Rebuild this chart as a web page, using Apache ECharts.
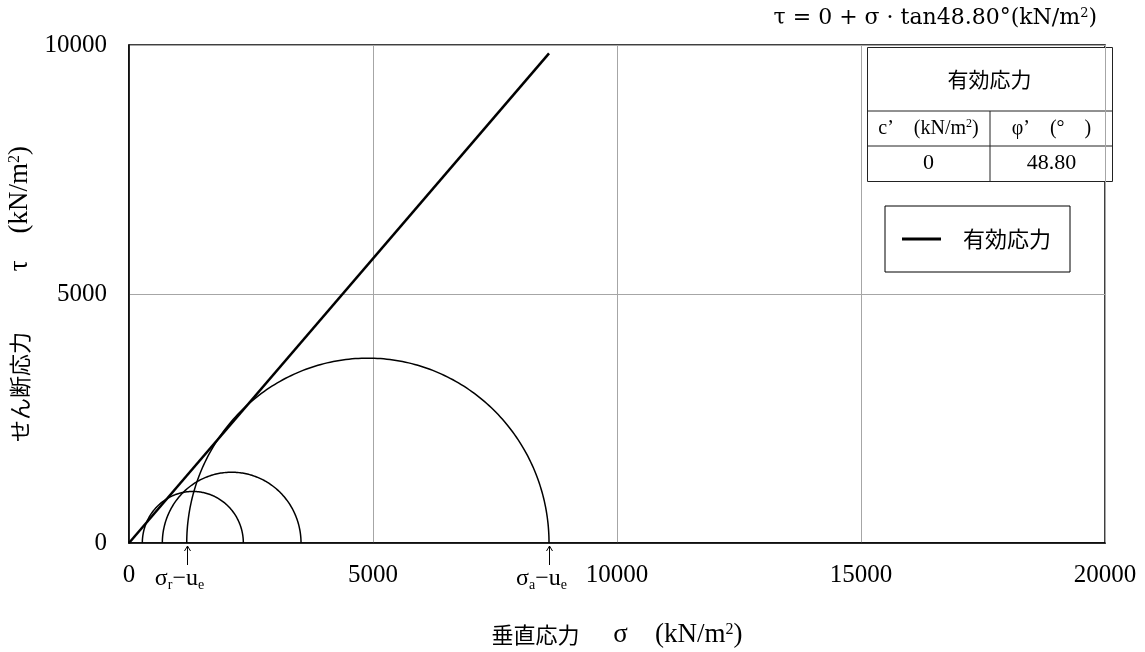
<!DOCTYPE html>
<html><head><meta charset="utf-8">
<script src="https://cdn.jsdelivr.net/npm/echarts@6/dist/echarts.min.js"></script>
<style>html,body{margin:0;padding:0;background:#fff}#c{width:1145px;height:652px}</style>
</head><body><div id="c"></div>
<script>
// ---- data ----
const circleCenters = [1308, 2104, 4895];
const circleRadii = [1035, 1421, 3712];
const envelopeSigma = [0, 8607];
const envelopeTau = [0, 9832];
const arrowSigma = [1182, 8607];
const arrowSubs = ['r', 'a'];
const seriesName = '有効応力';
const tableHeader = '有効応力';
const tableCols = ['c’　(kN/m{sup|2})', 'φ’　(°　)'];
const tableVals = ['0', '48.80'];
const xName = '{j|垂直応力}{l|　 σ　(kN/m}{s|2}{l|)}';
const yName = '{j|せん断応力}{l|　　 τ　(kN/m}{s|2}{l|)}';

const SERIF = "'Liberation Serif','Noto Sans CJK JP',serif";
const chart = echarts.init(document.getElementById('c'));

const circleData = circleCenters.map((c, i) => [c, circleRadii[i]]);
const envelopeData = envelopeSigma.map((s, i) => [s, envelopeTau[i]]);

const nameRich = {
  j: {fontFamily: "'Noto Sans CJK JP',sans-serif", fontSize: 22, color: '#000'},
  l: {fontFamily: SERIF, fontSize: 27, color: '#000'},
  s: {fontFamily: SERIF, fontSize: 16, color: '#000', padding: [0, 0, 10, 0]}
};

const option = {
  animation: false,
  grid: {left: 129, right: 40, top: 45, bottom: 109, outerBoundsMode: 'none', containLabel: false,
    show: true, borderColor: '#000', borderWidth: 1.5, backgroundColor: 'transparent'},
  xAxis: {
    type: 'value', min: 0, max: 20000, interval: 5000,
    name: xName, nameLocation: 'middle', nameGap: 78,
    nameTextStyle: {fontFamily: SERIF, fontSize: 22, color: '#000', rich: nameRich},
    axisLine: {show: true, lineStyle: {color: '#000', width: 1.5}},
    axisTick: {show: false},
    axisLabel: {fontFamily: SERIF, fontSize: 25, color: '#000', margin: 20, formatter: v => String(v)},
    splitLine: {show: true, lineStyle: {color: '#a6a6a6', width: 1}}
  },
  yAxis: {
    type: 'value', min: 0, max: 10000, interval: 5000,
    name: yName, nameLocation: 'middle', nameGap: 82, nameRotate: 90,
    nameTextStyle: {fontFamily: SERIF, fontSize: 22, color: '#000', rich: nameRich},
    axisLine: {show: true, lineStyle: {color: '#000', width: 1.5}},
    axisTick: {show: false},
    axisLabel: {fontFamily: SERIF, fontSize: 25, color: '#000', margin: 22, formatter: v => String(v)},
    splitLine: {show: true, lineStyle: {color: '#a6a6a6', width: 1}}
  },
  legend: {
    data: [{name: seriesName, icon: 'rect'}],
    left: 885, top: 206,
    itemWidth: 39, itemHeight: 3, itemGap: 10,
    padding: [22, 19, 22, 17],
    borderColor: '#000', borderWidth: 1, backgroundColor: '#fff',
    textStyle: {fontFamily: "'Noto Sans CJK JP',sans-serif", fontSize: 22, color: '#000', padding: [0, 0, 0, 17]}
  },
  series: [
    {
      name: seriesName, type: 'line', data: envelopeData, symbol: 'none',
      lineStyle: {color: '#000', width: 2.5}, itemStyle: {color: '#000'}, z: 3
    },
    {
      type: 'custom', data: circleData, silent: true, z: 2,
      renderItem: function (params, api) {
        const c = api.value(0), r = api.value(1);
        const pts = [];
        const N = 180;
        for (let k = 0; k <= N; k++) {
          const t = Math.PI * k / N;
          pts.push(api.coord([c + r * Math.cos(t), r * Math.sin(t)]));
        }
        return {type: 'polyline', shape: {points: pts}, style: {stroke: '#000', lineWidth: 1.5, fill: null}};
      }
    },
    {
      type: 'custom', data: arrowSigma.map((s, i) => [s, i]), silent: true, z: 4,
      renderItem: function (params, api) {
        const p = api.coord([api.value(0), 0]);
        const x = Math.round(p[0]) + 0.5, y0 = p[1] + 3, y1 = p[1] + 22;
        const sub = arrowSubs[api.value(1)];
        return {
          type: 'group', children: [
            {type: 'line', shape: {x1: x, y1: y0, x2: x, y2: y1}, style: {stroke: '#000', lineWidth: 1}},
            {type: 'polyline', shape: {points: [[x - 3, y0 + 5], [x, y0], [x + 3, y0 + 5]]}, style: {stroke: '#000', lineWidth: 1, fill: null}},
            {type: 'text', x: x - 8, y: p[1] + 36, style: {
              text: 'σ{s|' + sub + '}−u{s|e}', align: 'center', verticalAlign: 'middle',
              fontFamily: SERIF, fontSize: 24, fill: '#000',
              rich: {s: {fontFamily: SERIF, fontSize: 14, fill: '#000', padding: [12, 0, 0, 0]}}
            }}
          ]
        };
      }
    }
  ],
  graphic: [
    {type: 'text', right: 48, top: 7, z: 10, style: {
      text: 'τ = 0 + σ · tan48.80°(kN/m{p|2})', fontFamily: "'DejaVu Serif','Liberation Serif',serif", fontSize: 22, fill: '#000',
      rich: {p: {fontFamily: "'DejaVu Serif',serif", fontSize: 13, fill: '#000', padding: [0, 0, 10, 0]}}
    }},
    {type: 'group', left: 865, top: 47, z: 10, children: [
      {type: 'rect', shape: {x: 0, y: 0, width: 245, height: 134}, style: {fill: '#fff', stroke: '#222', lineWidth: 1}},
      {type: 'line', shape: {x1: 0, y1: 63.5, x2: 245, y2: 63.5}, style: {stroke: '#222', lineWidth: 1}},
      {type: 'line', shape: {x1: 0, y1: 98.5, x2: 245, y2: 98.5}, style: {stroke: '#222', lineWidth: 1}},
      {type: 'line', shape: {x1: 122.5, y1: 63.5, x2: 122.5, y2: 134}, style: {stroke: '#222', lineWidth: 1}},
      {type: 'text', x: 122, y: 32, style: {text: tableHeader, align: 'center', verticalAlign: 'middle', fontFamily: "'Noto Sans CJK JP',sans-serif", fontSize: 21, fill: '#000'}},
      {type: 'text', x: 61, y: 81, style: {text: tableCols[0], align: 'center', verticalAlign: 'middle', fontFamily: SERIF, fontSize: 20, fill: '#000',
        rich: {sup: {fontFamily: SERIF, fontSize: 12, fill: '#000', padding: [0, 0, 9, 0]}}}},
      {type: 'text', x: 184, y: 81, style: {text: tableCols[1], align: 'center', verticalAlign: 'middle', fontFamily: SERIF, fontSize: 20, fill: '#000'}},
      {type: 'text', x: 61, y: 116, style: {text: tableVals[0], align: 'center', verticalAlign: 'middle', fontFamily: SERIF, fontSize: 22, fill: '#000'}},
      {type: 'text', x: 184, y: 116, style: {text: tableVals[1], align: 'center', verticalAlign: 'middle', fontFamily: SERIF, fontSize: 22, fill: '#000'}}
    ]}
  ]
};
chart.setOption(option);
</script></body></html>
